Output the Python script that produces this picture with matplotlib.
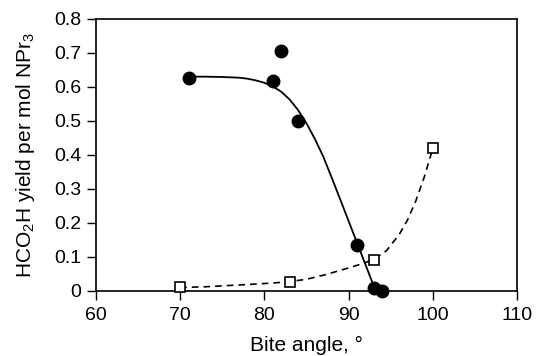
import matplotlib
matplotlib.use("Agg")
import matplotlib.pyplot as plt
from matplotlib.ticker import FuncFormatter

plt.rcParams['font.family'] = ['Liberation Sans', 'DejaVu Sans']
plt.rcParams['mathtext.fontset'] = 'custom'
plt.rcParams['mathtext.rm'] = 'Liberation Sans'
plt.rcParams['mathtext.it'] = 'Liberation Sans:italic'

# Measured data
circ_x = [71, 81, 82, 84, 91, 93, 94]
circ_y = [0.627, 0.617, 0.705, 0.50, 0.135, 0.007, 0.0]
sq_x = [70, 83, 93, 100]
sq_y = [0.010, 0.026, 0.091, 0.419]

# Fitted curves
fit1_x = [71.0, 73.0, 75.0, 77.0, 78.0, 79.0, 80.0, 81.0, 82.0, 83.0, 84.0, 85.0,
          86.0, 87.0, 88.0, 89.0, 90.0, 91.0, 92.0, 93.0, 93.2]
fit1_y = [0.630, 0.630, 0.629, 0.627, 0.624, 0.619, 0.612, 0.601, 0.586, 0.563,
          0.532, 0.493, 0.447, 0.395, 0.333, 0.270, 0.206, 0.142, 0.078, 0.014, 0.001]
fit2_x = [70.0, 73.0, 76.0, 79.0, 81.0, 83.0, 85.0, 87.0, 89.0, 91.0, 93.0,
          94.5, 96.0, 97.0, 98.0, 99.0, 100.0]
fit2_y = [0.010, 0.012, 0.016, 0.020, 0.023, 0.027, 0.034, 0.046, 0.060, 0.075,
          0.092, 0.118, 0.165, 0.208, 0.265, 0.335, 0.418]

fig = plt.figure(figsize=(5.39, 3.56), dpi=100)
ax = fig.add_axes([0.178, 0.183, 0.781, 0.764])

ax.plot(fit1_x, fit1_y, color='black', lw=1.3, zorder=2)
ax.plot(fit2_x, fit2_y, color='black', lw=1.2, dashes=(4, 3), zorder=2)
ax.plot(circ_x, circ_y, 'o', color='black', ms=9, zorder=3, clip_on=False)
ax.plot(sq_x, sq_y, 's', mfc='white', mec='black', mew=1.2, ms=6.5, zorder=4,
        clip_on=False)

ax.set_xlim(60, 110)
ax.set_ylim(0, 0.8)
ax.set_xticks([60, 70, 80, 90, 100, 110])
ax.set_yticks([0, 0.1, 0.2, 0.3, 0.4, 0.5, 0.6, 0.7, 0.8])
ax.yaxis.set_major_formatter(FuncFormatter(lambda v, p: '0' if abs(v) < 1e-9 else f'{v:.1f}'))
ax.tick_params(direction='out', length=6.5, width=1, labelsize=14, colors='black')
ax.tick_params(axis='x', pad=5)
ax.tick_params(axis='y', pad=4)
for s in ax.spines.values():
    s.set_linewidth(1.2)

ax.set_xlabel('Bite angle, °', fontsize=15, labelpad=9)
ax.set_ylabel('HCO$_2$H yield per mol NPr$_3$', fontsize=15, labelpad=12)

fig.savefig('out.png', dpi=100)
